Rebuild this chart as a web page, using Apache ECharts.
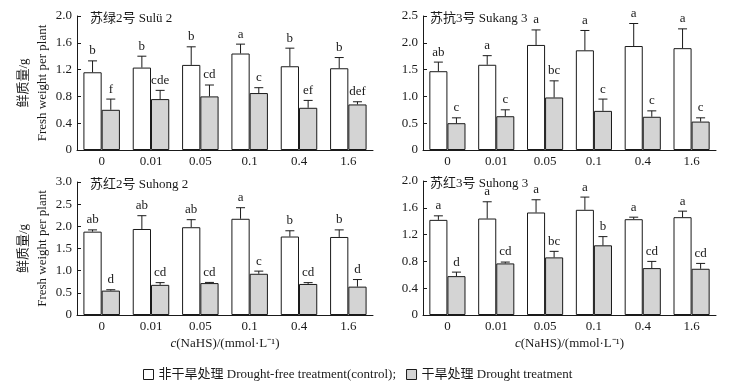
<!DOCTYPE html>
<html>
<head>
<meta charset="utf-8">
<script src="https://cdn.jsdelivr.net/npm/echarts@6/dist/echarts.min.js"></script>
<style>
  html, body { margin: 0; padding: 0; background: #fff; }
  #chart { width: 731px; height: 382px; }
</style>
</head>
<body>
<div id="chart"></div>
<script>
// 横轴 NaHS 浓度
var categories = ['0', '0.01', '0.05', '0.1', '0.4', '1.6'];

// 苏绿2号 Sulü 2
var sulu2CtrlMean = [1.16, 1.23, 1.27, 1.44, 1.25, 1.22];
var sulu2CtrlSd = [0.17, 0.17, 0.27, 0.14, 0.27, 0.16];
var sulu2CtrlLetters = ['b', 'b', 'b', 'a', 'b', 'b'];
var sulu2DrMean = [0.60, 0.76, 0.80, 0.85, 0.63, 0.68];
var sulu2DrSd = [0.16, 0.13, 0.17, 0.08, 0.11, 0.04];
var sulu2DrLetters = ['f', 'cde', 'cd', 'c', 'ef', 'def'];

// 苏抗3号 Sukang 3
var sukang3CtrlMean = [1.47, 1.59, 1.96, 1.86, 1.94, 1.90];
var sukang3CtrlSd = [0.17, 0.17, 0.28, 0.37, 0.42, 0.36];
var sukang3CtrlLetters = ['ab', 'a', 'a', 'a', 'a', 'a'];
var sukang3DrMean = [0.50, 0.63, 0.98, 0.73, 0.62, 0.53];
var sukang3DrSd = [0.10, 0.12, 0.31, 0.22, 0.11, 0.07];
var sukang3DrLetters = ['c', 'c', 'bc', 'c', 'c', 'c'];

// 苏红2号 Suhong 2
var suhong2CtrlMean = [1.88, 1.94, 1.98, 2.17, 1.77, 1.76];
var suhong2CtrlSd = [0.04, 0.30, 0.17, 0.25, 0.13, 0.16];
var suhong2CtrlLetters = ['ab', 'ab', 'ab', 'a', 'b', 'b'];
var suhong2DrMean = [0.55, 0.68, 0.72, 0.93, 0.70, 0.64];
var suhong2DrSd = [0.02, 0.05, 0.015, 0.06, 0.03, 0.16];
var suhong2DrLetters = ['d', 'cd', 'cd', 'c', 'cd', 'd'];

// 苏红3号 Suhong 3
var suhong3CtrlMean = [1.42, 1.44, 1.53, 1.57, 1.43, 1.46];
var suhong3CtrlSd = [0.06, 0.25, 0.19, 0.19, 0.03, 0.09];
var suhong3CtrlLetters = ['a', 'a', 'a', 'a', 'a', 'a'];
var suhong3DrMean = [0.58, 0.77, 0.86, 1.04, 0.70, 0.69];
var suhong3DrSd = [0.06, 0.02, 0.09, 0.13, 0.10, 0.08];
var suhong3DrLetters = ['d', 'cd', 'bc', 'b', 'cd', 'cd'];

var titles = ['苏绿2号 Sulü 2', '苏抗3号 Sukang 3', '苏红2号 Suhong 2', '苏红3号 Suhong 3'];
var yMax = [2.0, 2.5, 3.0, 2.0];
var yStep = [0.4, 0.5, 0.5, 0.4];

var ctrlName = '非干旱处理 Drought-free treatment(control);';
var drName = '干旱处理 Drought treatment';

var panels = [
  { ctrl: sulu2CtrlMean, ctrlSd: sulu2CtrlSd, ctrlL: sulu2CtrlLetters, dr: sulu2DrMean, drSd: sulu2DrSd, drL: sulu2DrLetters },
  { ctrl: sukang3CtrlMean, ctrlSd: sukang3CtrlSd, ctrlL: sukang3CtrlLetters, dr: sukang3DrMean, drSd: sukang3DrSd, drL: sukang3DrLetters },
  { ctrl: suhong2CtrlMean, ctrlSd: suhong2CtrlSd, ctrlL: suhong2CtrlLetters, dr: suhong2DrMean, drSd: suhong2DrSd, drL: suhong2DrLetters },
  { ctrl: suhong3CtrlMean, ctrlSd: suhong3CtrlSd, ctrlL: suhong3CtrlLetters, dr: suhong3DrMean, drSd: suhong3DrSd, drL: suhong3DrLetters }
];

var FONT = '"Liberation Serif", "Noto Sans CJK SC", serif';
var INK = '#1a1a1a';
var GRAY = '#d4d4d4';
var BAR_FRAC = 0.37;

var grids = [
  { left: 77, top: 16, width: 296, height: 134 },
  { left: 423, top: 16, width: 293, height: 134 },
  { left: 77, top: 182, width: 296, height: 133 },
  { left: 423, top: 181, width: 293, height: 134 }
];
// 标题左移量（左列/右列不同）
var titleShift = [8, 2, 8, 2];

var chart = echarts.init(document.getElementById('chart'));

// 误差线 + 显著性字母
function errSeries(gi, means, sds, letters, side) {
  return {
    type: 'custom',
    xAxisIndex: gi,
    yAxisIndex: gi,
    z: 5,
    silent: true,
    data: means.map(function(m, i) { return [i, m, sds[i]]; }),
    renderItem: function(params, api) {
      var idx = api.value(0), mean = api.value(1), sd = api.value(2);
      var top = api.coord([idx, mean + sd]);
      var base = api.coord([idx, mean]);
      var bw = api.size([1, 0])[0] * BAR_FRAC;
      var x = top[0] + side * bw / 2;
      return {
        type: 'group',
        children: [
          { type: 'line', shape: { x1: x, y1: base[1], x2: x, y2: top[1] }, style: { stroke: INK, lineWidth: 1 } },
          { type: 'line', shape: { x1: x - 4.5, y1: top[1], x2: x + 4.5, y2: top[1] }, style: { stroke: INK, lineWidth: 1 } },
          { type: 'text', x: x, y: top[1] - 3.5, style: { text: letters[params.dataIndex], fill: INK, font: '13px ' + FONT, align: 'center', verticalAlign: 'bottom' } }
        ]
      };
    }
  };
}

var xAxes = [], yAxes = [], series = [], titleList = [];
grids.forEach(function(g, gi) {
  var bottomRow = gi >= 2;
  xAxes.push({
    type: 'category',
    gridIndex: gi,
    data: categories,
    axisLine: { lineStyle: { color: INK, width: 1 } },
    axisTick: { inside: true, length: 4, lineStyle: { color: INK } },
    axisLabel: { color: INK, fontFamily: FONT, fontSize: 13, margin: 5 },
    name: bottomRow ? '{i|c}(NaHS)/(mmol·L⁻¹)' : '',
    nameLocation: 'middle',
    nameGap: 22,
    nameTextStyle: {
      color: INK, fontFamily: FONT, fontSize: 13, verticalAlign: 'top',
      rich: { i: { fontStyle: 'italic', fontFamily: FONT, fontSize: 13, color: INK } }
    }
  });
  var leftCol = gi % 2 === 0;
  yAxes.push({
    type: 'value',
    gridIndex: gi,
    min: 0,
    max: yMax[gi],
    interval: yStep[gi],
    splitLine: { show: false },
    axisLine: { show: true, lineStyle: { color: INK, width: 1 } },
    axisTick: { show: true, inside: true, length: 4, lineStyle: { color: INK } },
    axisLabel: {
      color: INK, fontFamily: FONT, fontSize: 13, margin: 5,
      formatter: function(v) { return v === 0 ? '0' : v.toFixed(1); }
    },
    name: leftCol ? '鲜质量/g\nFresh weight per plant' : '',
    nameLocation: 'middle',
    nameRotate: 90,
    nameGap: 25,
    nameTextStyle: { color: INK, fontFamily: FONT, fontSize: 13, lineHeight: 19 }
  });
  titleList.push({
    text: titles[gi],
    left: g.left + titleShift[gi],
    top: g.top - 9,
    textStyle: { color: INK, fontFamily: FONT, fontSize: 13, fontWeight: 'normal' }
  });
  var p = panels[gi];
  series.push({
    name: ctrlName, type: 'bar', xAxisIndex: gi, yAxisIndex: gi,
    barWidth: (BAR_FRAC * 100) + '%', barGap: '0%',
    itemStyle: { color: '#fff', borderColor: INK, borderWidth: 1 },
    data: p.ctrl
  });
  series.push({
    name: drName, type: 'bar', xAxisIndex: gi, yAxisIndex: gi,
    barWidth: (BAR_FRAC * 100) + '%', barGap: '0%',
    itemStyle: { color: GRAY, borderColor: INK, borderWidth: 1 },
    data: p.dr
  });
  series.push(errSeries(gi, p.ctrl, p.ctrlSd, p.ctrlL, -1));
  series.push(errSeries(gi, p.dr, p.drSd, p.drL, 1));
});

chart.setOption({
  animation: false,
  backgroundColor: '#fff',
  textStyle: { fontFamily: FONT },
  title: titleList,
  grid: grids,
  xAxis: xAxes,
  yAxis: yAxes,
  legend: {
    data: [ctrlName, drName],
    left: 138,
    top: 363,
    icon: 'rect',
    itemWidth: 10,
    itemHeight: 10,
    itemGap: 10,
    selectedMode: false,
    itemStyle: { borderWidth: 1, borderColor: INK },
    textStyle: { color: INK, fontFamily: FONT, fontSize: 13 }
  },
  series: series
});
</script>
</body>
</html>
